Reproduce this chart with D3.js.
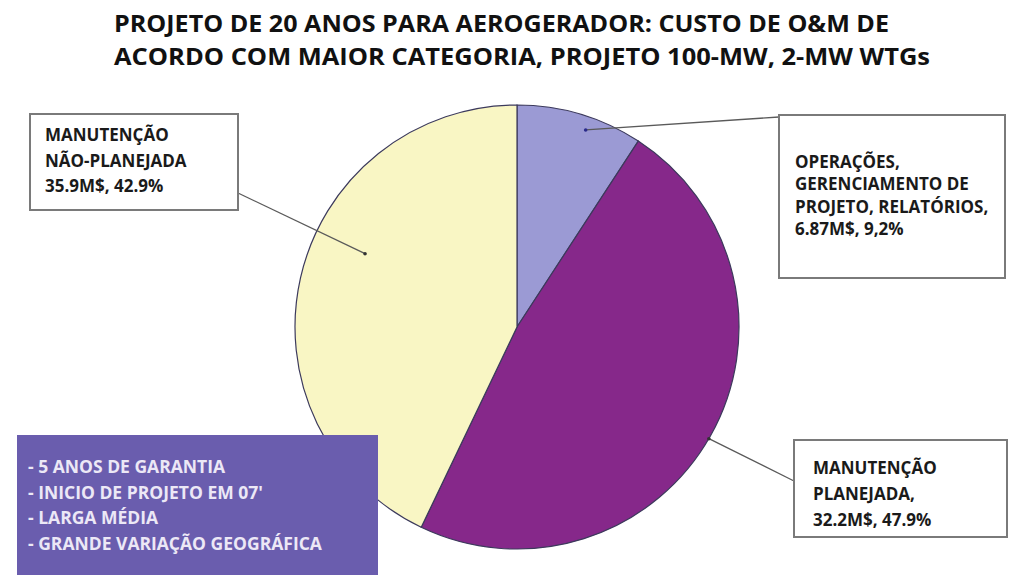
<!DOCTYPE html>
<html>
<head>
<meta charset="utf-8">
<script src="https://cdn.jsdelivr.net/npm/d3@7"></script>
<style>
  body { margin: 0; background: #fff; }
  svg { display: block; }
</style>
</head>
<body>
<div id="chart"></div>
<script>
// data
var categories = ["OPERAÇÕES, GERENCIAMENTO DE PROJETO, RELATÓRIOS", "MANUTENÇÃO PLANEJADA", "MANUTENÇÃO NÃO-PLANEJADA"];
var costs = ["6.87M$", "32.2M$", "35.9M$"];
var shares = [9.2, 47.9, 42.9];
var labelShares = ["9,2%", "47.9%", "42.9%"];
var titleLines = ["PROJETO DE 20 ANOS PARA AEROGERADOR: CUSTO DE O&M DE", "ACORDO COM MAIOR CATEGORIA, PROJETO 100-MW, 2-MW WTGs"];
var notes = ["- 5 ANOS DE GARANTIA", "- INICIO DE PROJETO EM 07'", "- LARGA MÉDIA", "- GRANDE VARIAÇÃO GEOGRÁFICA"];

var colors = ["#9b9ad4", "#86288a", "#f9f6c4"];

// label boxes (layout only)
var boxes = [
  {x: 779, y: 115, w: 226, h: 163, tx: 795, ty: 168, dy: 22.3,
   lines: ["OPERAÇÕES,", "GERENCIAMENTO DE", "PROJETO, RELATÓRIOS,"], hit: [779, 117], t: 0.58, rf: 0.94},
  {x: 794, y: 440, w: 213, h: 97, tx: 813, ty: 474, dy: 26,
   lines: ["MANUTENÇÃO", "PLANEJADA,"], hit: [794, 481], t: 0.505, rf: 1.0},
  {x: 30, y: 114, w: 208, h: 96, tx: 45, ty: 141, dy: 25.5,
   lines: ["MANUTENÇÃO", "NÃO-PLANEJADA"], hit: [238, 193], t: 0.584, rf: 0.76}
];

var width = 1009, height = 588;
var cx = 517, cy = 327, r = 222;

var svg = d3.select("#chart").append("svg")
    .attr("width", width)
    .attr("height", height);

// title
svg.selectAll(".title")
    .data(titleLines)
    .enter().append("text")
    .attr("class", "title")
    .attr("x", 114)
    .attr("y", (d, i) => 32 + i * 33)
    .attr("font-family", "Open Sans, sans-serif")
    .attr("font-weight", "bold")
    .attr("font-size", 23)
    .attr("fill", "#111")
    .attr("textLength", (d, i) => i == 0 ? 775 : 816)
    .attr("lengthAdjust", "spacingAndGlyphs")
    .text(d => d);

var pie = d3.pie().sort(null).value(d => d);
var arcs = pie(shares);
var arc = d3.arc().innerRadius(0).outerRadius(r);

var g = svg.append("g")
    .attr("transform", "translate(" + cx + "," + cy + ")");

g.selectAll(".slice")
    .data(arcs)
    .enter().append("path")
    .attr("class", "slice")
    .attr("d", arc)
    .attr("fill", (d, i) => colors[i])
    .attr("stroke", "#3c3a5c")
    .attr("stroke-width", 1.2);

// leader lines
arcs.forEach(function (a, i) {
    var b = boxes[i];
    var ang = a.startAngle + (a.endAngle - a.startAngle) * b.t;
    var px = cx + r * b.rf * Math.sin(ang);
    var py = cy - r * b.rf * Math.cos(ang);
    svg.append("line")
        .attr("x1", b.hit[0]).attr("y1", b.hit[1])
        .attr("x2", px).attr("y2", py)
        .attr("stroke", "#5a5a5a")
        .attr("stroke-width", 1.3);
    svg.append("circle")
        .attr("cx", px).attr("cy", py).attr("r", 1.8)
        .attr("fill", i == 0 ? "#2a2a8a" : "#333");
});

// label boxes
boxes.forEach(function (b, i) {
    svg.append("rect")
        .attr("x", b.x).attr("y", b.y)
        .attr("width", b.w).attr("height", b.h)
        .attr("fill", "#fff")
        .attr("stroke", "#7a7a7a")
        .attr("stroke-width", 2);
    var lines = b.lines.concat([costs[i] + ", " + labelShares[i]]);
    svg.selectAll(".lbl" + i)
        .data(lines)
        .enter().append("text")
        .attr("x", b.tx)
        .attr("y", (d, k) => b.ty + k * b.dy)
        .attr("font-family", "Open Sans, sans-serif")
        .attr("font-weight", "bold")
        .attr("font-size", 17)
        .attr("fill", "#1a1a1a")
        .text(d => d);
});

// notes box
svg.append("rect")
    .attr("x", 17).attr("y", 435)
    .attr("width", 361).attr("height", 140)
    .attr("fill", "#6a5dae");

svg.selectAll(".note")
    .data(notes)
    .enter().append("text")
    .attr("class", "note")
    .attr("x", 28)
    .attr("y", (d, i) => 473 + i * 25.7)
    .attr("font-family", "Open Sans, sans-serif")
    .attr("font-weight", "bold")
    .attr("font-size", 17.5)
    .attr("fill", "#ece8f6")
    .text(d => d);
</script>
</body>
</html>
